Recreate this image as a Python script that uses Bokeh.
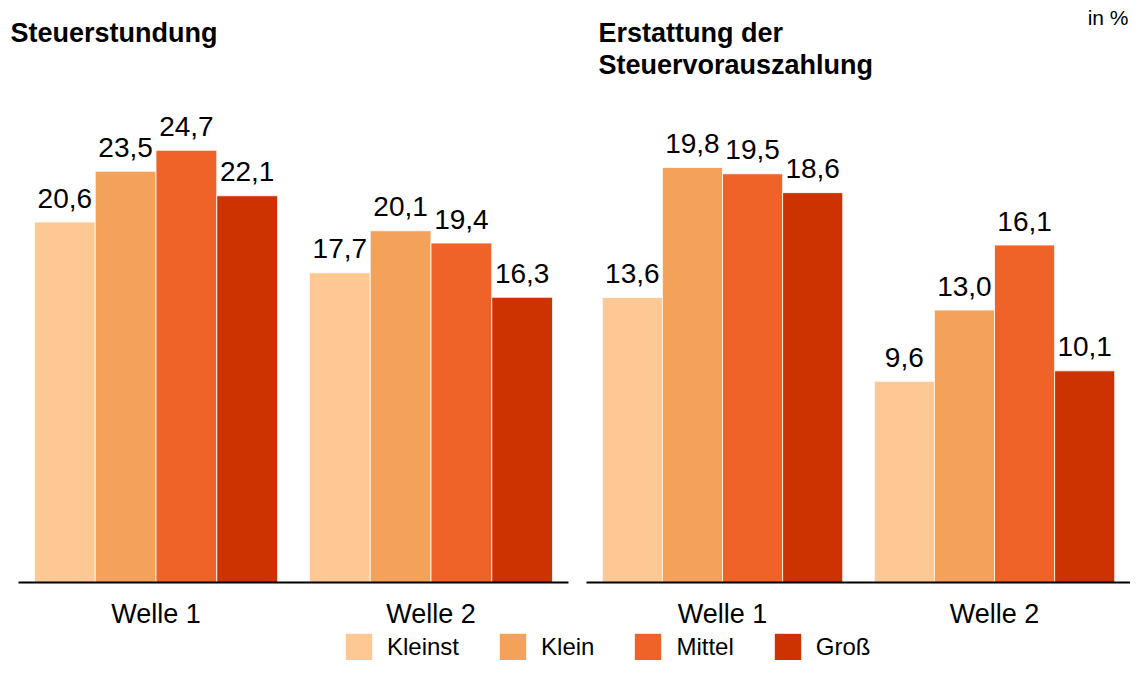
from bokeh.plotting import figure
from bokeh.models import Range1d, ColumnDataSource, Label, Legend, LegendItem, FixedTicker
from bokeh.transform import dodge
from bokeh.layouts import column, row
from bokeh.embed import file_html
from bokeh.resources import INLINE
from bokeh.core.properties import value

# ---------------- data ----------------
waves = ["Welle 1", "Welle 2"]
sizes = ["Kleinst", "Klein", "Mittel", "Groß"]
colors = ["#FDC894", "#F4A259", "#EF6328", "#CC3300"]

stundung_kleinst = [20.6, 17.7]
stundung_klein = [23.5, 20.1]
stundung_mittel = [24.7, 19.4]
stundung_gross = [22.1, 16.3]

erstattung_kleinst = [13.6, 9.6]
erstattung_klein = [19.8, 13.0]
erstattung_mittel = [19.5, 16.1]
erstattung_gross = [18.6, 10.1]

title_left = ["Steuerstundung"]
title_right = ["Erstattung der", "Steuervorauszahlung"]
unit_label = "in %"

# ---------------- layout constants ----------------
FONT = "Liberation Sans"
ROW_H = 632
MB_BOTTOM = 48
FRAME_H = ROW_H - MB_BOTTOM      # frame covers canvas top .. 584
BASE_PX = 582                    # canvas y of the zero line
BAR_W = 0.221


def fmt(v):
    return f"{v:.1f}".replace(".", ",")


def make_panel(series, width, pad_left, pad_right, px_per_unit, titles, title_x,
               unit=None, unit_x=None):
    n = len(waves)
    xpos = [i + 0.5 for i in range(n)]
    data = {"x": xpos}
    for name, vals in zip(sizes, series):
        data[name] = vals
        data[name + "_lbl"] = [fmt(v) for v in vals]
    src = ColumnDataSource(data)

    px_per_group = (width - pad_left - pad_right) / n
    x_range = Range1d(-pad_left / px_per_group, n + pad_right / px_per_group)
    y_range = Range1d(-(FRAME_H - BASE_PX) / px_per_unit, BASE_PX / px_per_unit)

    p = figure(x_range=x_range, y_range=y_range, width=width, height=ROW_H,
               output_backend="svg", toolbar_location=None, y_axis_location=None,
               min_border_left=0, min_border_right=0, min_border_top=0,
               min_border_bottom=MB_BOTTOM, outline_line_color=None,
               background_fill_color="white", border_fill_color="white")
    p.xgrid.visible = False
    p.ygrid.visible = False

    for i, (name, color) in enumerate(zip(sizes, colors)):
        off = (i - 1.5) * BAR_W
        p.vbar(x=dodge("x", off), top=name, width=BAR_W, source=src,
               fill_color=color, line_color="white", line_width=0.8)
        p.text(x=dodge("x", off), y=name, text=name + "_lbl", source=src,
               text_align="center", text_baseline="middle", y_offset=-24,
               text_font=value(FONT), text_font_size="28px", text_color="black")

    # zero line of the panel
    p.segment(x0=[0], x1=[n], y0=[0], y1=[0], line_color="black", line_width=2)

    ax = p.xaxis[0]
    ax.ticker = FixedTicker(ticks=xpos)
    ax.major_label_overrides = {x: w for x, w in zip(xpos, waves)}
    ax.axis_line_color = None
    ax.major_tick_line_color = None
    ax.minor_tick_line_color = None
    ax.major_tick_out = 0
    ax.major_tick_in = 0
    ax.major_label_standoff = 14
    ax.major_label_text_font = FONT
    ax.major_label_text_font_size = "27px"
    ax.major_label_text_color = "black"

    for k, t in enumerate(titles):
        canvas_center = 32 + k * 32
        p.add_layout(Label(x=title_x, y=FRAME_H - canvas_center, x_units="screen",
                           y_units="screen", text=t, text_font=FONT, text_font_size="27px",
                           text_font_style="bold", text_color="black",
                           text_baseline="middle", text_align="left"))
    if unit:
        p.add_layout(Label(x=unit_x, y=FRAME_H - 17, x_units="screen", y_units="screen",
                           text=unit, text_font=FONT, text_font_size="21px",
                           text_color="black", text_baseline="middle", text_align="right"))
    return p


p1 = make_panel([stundung_kleinst, stundung_klein, stundung_mittel, stundung_gross],
                578, 18, 10, 17.5, title_left, 10)
p2 = make_panel([erstattung_kleinst, erstattung_klein, erstattung_mittel, erstattung_gross],
                552, 8, 0, 20.96, title_right, 20, unit_label, 550)

# ---------------- legend strip ----------------
pl = figure(width=1130, height=28, output_backend="svg", toolbar_location=None,
            x_axis_location=None, y_axis_location=None, min_border=0,
            outline_line_color=None, x_range=Range1d(0, 1), y_range=Range1d(0, 1))
pl.xgrid.visible = False
pl.ygrid.visible = False
items = []
for name, color in zip(sizes, colors):
    r = pl.vbar(x=[-10], top=[-10], width=0.1, fill_color=color, line_color=None)
    items.append(LegendItem(label=name, renderers=[r]))
leg = Legend(items=items, orientation="horizontal", location=(342, -3),
             glyph_width=33, glyph_height=33, label_height=33, label_standoff=12, spacing=37,
             padding=0, margin=0, border_line_color=None, background_fill_alpha=0,
             label_text_font=FONT, label_text_font_size="24px", label_text_color="black")
pl.add_layout(leg)

layout = column(row(p1, p2), pl)
open("out.html", "w").write(file_html(layout, INLINE))
